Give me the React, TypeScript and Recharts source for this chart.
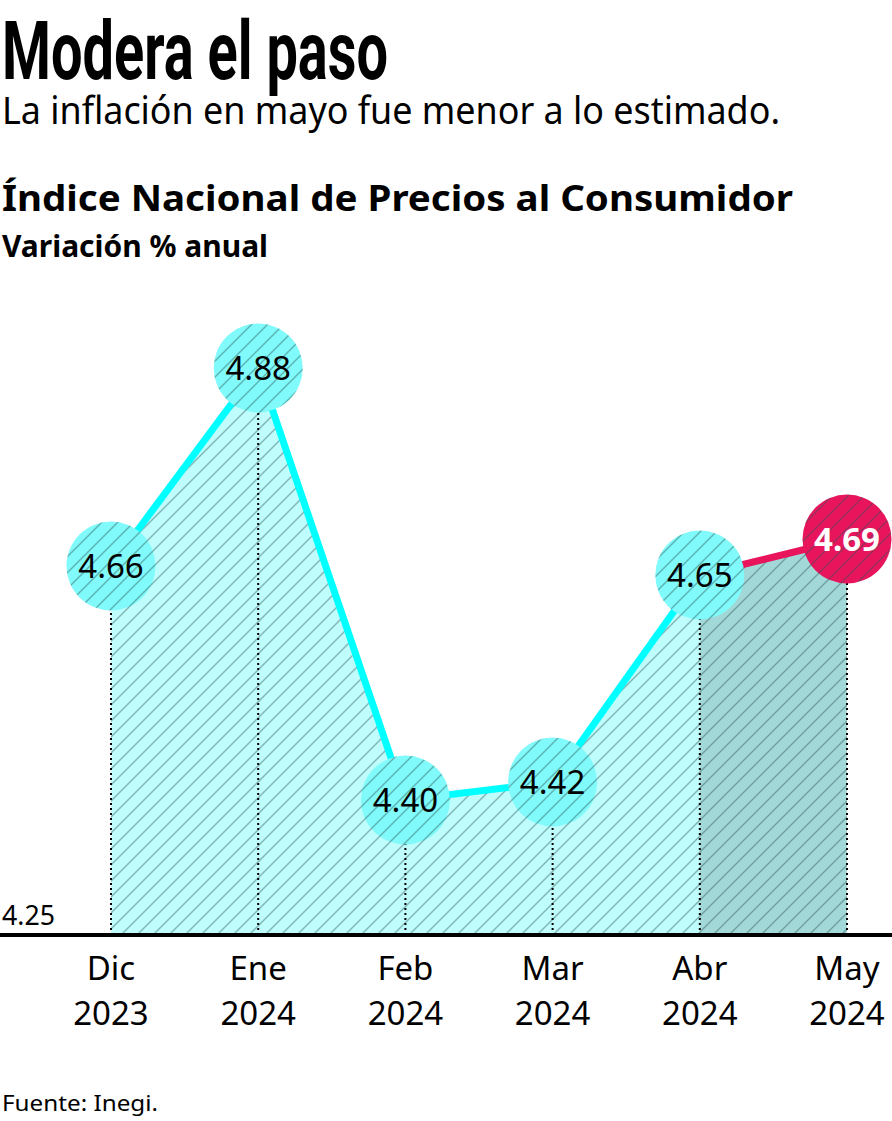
import React from 'react';
import { ComposedChart, Area, Line, XAxis, YAxis, ReferenceLine } from 'recharts';

const months = ['Dic', 'Ene', 'Feb', 'Mar', 'Abr', 'May'];
const years = ['2023', '2024', '2024', '2024', '2024', '2024'];
const values = [4.66, 4.88, 4.4, 4.42, 4.65, 4.69];
const yTicks = [4.25];
const yDomain = [4.25, 5.0];

const CYAN = '#00ffff';
const PINK = '#e8145c';
const AREA_LIGHT = '#bffdfd';
const AREA_DARK = '#a3d8d8';
const BUBBLE = '#80fafa';

const lastIdx = values.length - 1;
const data = months.map((m, i) => ({
  label: m,
  year: years[i],
  value: values[i],
  main: i <= lastIdx - 1 ? values[i] : null,
  last: i >= lastIdx - 1 ? values[i] : null,
}));

const FONT = "'Noto Sans', 'Open Sans', sans-serif";

const Bubble = (props: any) => {
  const { cx, cy, index, payload } = props;
  if (cx == null || cy == null) return null;
  const isLast = index === lastIdx;
  return (
    <g key={`b-${index}`}>
      <circle cx={cx} cy={cy} r={44.5} fill={isLast ? PINK : BUBBLE} />
      <circle cx={cx} cy={cy} r={44.5} fill="url(#hatch)" />
      <text
        x={cx}
        y={cy + 12}
        textAnchor="middle"
        fontFamily={FONT}
        fontSize={33}
        fontWeight={isLast ? 700 : 400}
        fill={isLast ? '#ffffff' : '#000000'}
      >
        {payload.value.toFixed(2)}
      </text>
    </g>
  );
};

const XTick = (props: any) => {
  const { x, y, payload, index } = props;
  return (
    <text x={x} y={y} textAnchor="middle" fontFamily={FONT} fontSize={33} fill="#000">
      <tspan x={x} dy={37}>{payload.value}</tspan>
      <tspan x={x} dy={45}>{years[index]}</tspan>
    </text>
  );
};

const YLabel = (props: any) => {
  const { viewBox } = props;
  if (!viewBox) return null;
  return (
    <text x={2} y={viewBox.y - 10} textAnchor="start" fontFamily={FONT} fontSize={27} textLength={53} lengthAdjust="spacingAndGlyphs" fill="#000">
      {yTicks[0].toFixed(2)}
    </text>
  );
};

export default function App() {
  return (
    <div style={{ position: 'absolute', left: 0, top: 0, width: 892, height: 1121, background: '#fff' }}>
      <ComposedChart
        width={892}
        height={1121}
        data={data}
        margin={{ top: 260, right: 0, bottom: 156, left: 0 }}
      >
        <defs>
          <pattern id="hatch" patternUnits="userSpaceOnUse" width={16} height={16}>
            <path
              d="M-4,4 L4,-4 M0,16 L16,0 M12,20 L20,12"
              stroke="#2a5555"
              strokeOpacity={0.42}
              strokeWidth={1.5}
              fill="none"
            />
          </pattern>
        </defs>
        <XAxis
          dataKey="label"
          scale="point"
          height={30}
          padding={{ left: 111, right: 45 }}
          interval={0}
          tickLine={false}
          axisLine={{ stroke: '#000', strokeWidth: 4 }}
          tick={<XTick />}
        />
        <YAxis hide domain={yDomain} ticks={yTicks} allowDataOverflow />
        <Area dataKey="main" type="linear" stroke="none" fill={AREA_LIGHT} fillOpacity={1} isAnimationActive={false} dot={false} activeDot={false} />
        <Area dataKey="last" type="linear" stroke="none" fill={AREA_DARK} fillOpacity={1} isAnimationActive={false} dot={false} activeDot={false} />
        <Area dataKey="value" type="linear" stroke="none" fill="url(#hatch)" fillOpacity={1} isAnimationActive={false} dot={false} activeDot={false} />
        <ReferenceLine y={yTicks[0]} stroke="none" label={<YLabel />} />
        {data.map((d) => (
          <ReferenceLine
            key={`rl-${d.label}`}
            segment={[{ x: d.label, y: yDomain[0] }, { x: d.label, y: d.value }]}
            stroke="#000"
            strokeWidth={2}
            strokeDasharray="2 3"
          />
        ))}
        <Line dataKey="main" type="linear" stroke={CYAN} strokeWidth={7} dot={false} activeDot={false} isAnimationActive={false} />
        <Line dataKey="last" type="linear" stroke={PINK} strokeWidth={7} dot={false} activeDot={false} isAnimationActive={false} />
        <Line dataKey="value" type="linear" stroke="none" strokeWidth={0} dot={<Bubble />} activeDot={false} isAnimationActive={false} />
      </ComposedChart>
      <svg width={892} height={300} style={{ position: 'absolute', left: 0, top: 0 }}>
        <text
          x={2}
          y={79}
          fontFamily="'Liberation Sans Narrow', 'Roboto', sans-serif"
          fontWeight={700}
          fontSize={82}
          textLength={386}
          lengthAdjust="spacingAndGlyphs"
          fill="#000"
        >
          Modera el paso
        </text>
        <text x={2} y={124} fontFamily={FONT} fontSize={38} textLength={778} lengthAdjust="spacingAndGlyphs" fill="#000">
          La inflación en mayo fue menor a lo estimado.
        </text>
        <text x={2} y={211} fontFamily={FONT} fontWeight={700} fontSize={36} textLength={791} lengthAdjust="spacingAndGlyphs" fill="#000">
          Índice Nacional de Precios al Consumidor
        </text>
        <text x={2} y={257} fontFamily={FONT} fontWeight={700} fontSize={30} textLength={266} lengthAdjust="spacingAndGlyphs" fill="#000">
          Variación % anual
        </text>
      </svg>
      <svg width={892} height={40} style={{ position: 'absolute', left: 0, top: 1081 }}>
        <text x={2} y={30} fontFamily={FONT} fontSize={21} textLength={156} lengthAdjust="spacingAndGlyphs" fill="#000">
          Fuente: Inegi.
        </text>
      </svg>
    </div>
  );
}
